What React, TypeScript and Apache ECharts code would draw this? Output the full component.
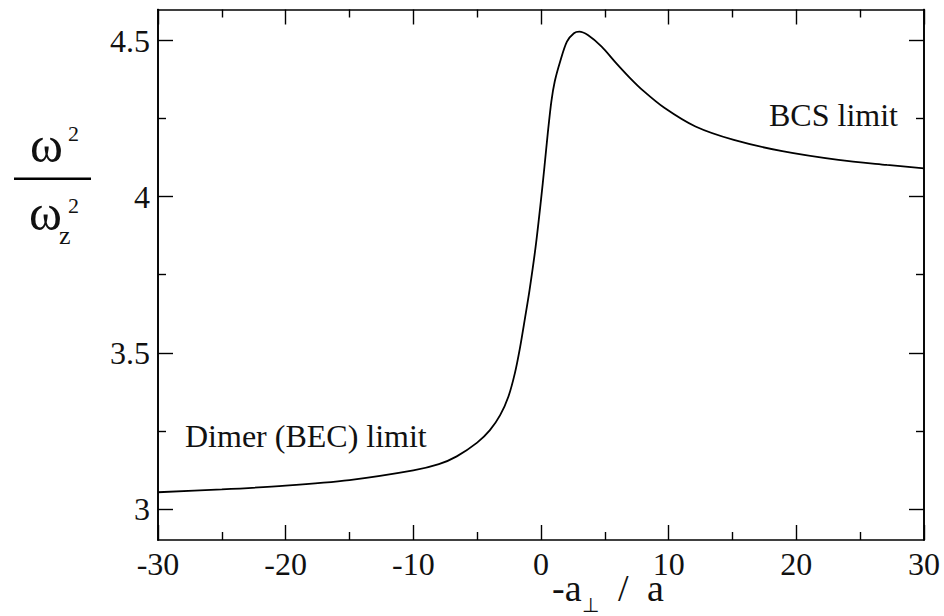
import React, { useEffect, useRef } from "react";
import * as echarts from "echarts";

const xValues = [-30, -25, -20, -15, -10, -8, -6.6, -5, -4, -3.2, -2.55, -2.05, -1.65, -1.25, -0.9, -0.42, 0, 0.27, 0.53, 0.81, 1.08, 1.49, 2.03, 2.58, 3.0, 3.67, 4.75, 5.85, 6.94, 8.0, 9.66, 12.1, 15.1, 18.9, 23.3, 27.1, 30];
const yValues = [3.053, 3.062, 3.074, 3.092, 3.123, 3.143, 3.168, 3.212, 3.252, 3.3, 3.36, 3.434, 3.515, 3.612, 3.7, 3.84, 3.99, 4.096, 4.203, 4.305, 4.37, 4.432, 4.497, 4.524, 4.529, 4.518, 4.481, 4.43, 4.382, 4.34, 4.285, 4.225, 4.182, 4.146, 4.118, 4.102, 4.091];
const yMajorTicks = [3, 3.5, 4, 4.5];
const yMinorTicks = [3.25, 3.75, 4.25];

const SERIF = "Liberation Serif";
const HIDDEN = "rgba(0,0,0,0)";

export default function App() {
  const ref = useRef<HTMLDivElement>(null);
  useEffect(() => {
    if (!ref.current) return;
    const chart = echarts.init(ref.current, null, { renderer: "svg" });
    const data = xValues.map((x, i) => [x, yValues[i]]);
    const axisLineStyle = { color: "#000", width: 1.6 };
    const tickStyle = { color: "#000", width: 1.4 };
    const yBase = (position: "left" | "right", show: boolean, ticks: number[], len: number) => ({
      type: "value",
      position,
      min: 2.9,
      max: 4.6,
      axisLine: { show: true, onZero: false, lineStyle: axisLineStyle },
      axisTick: { show: true, inside: true, length: len, customValues: ticks, lineStyle: tickStyle },
      axisLabel: show
        ? { show: true, customValues: ticks, color: "#111", fontFamily: SERIF, fontSize: 32, margin: 8 }
        : { show: true, inside: true, customValues: ticks, color: HIDDEN, fontFamily: SERIF, fontSize: 30, margin: 20 },
      splitLine: { show: false },
    });
    const xBase = (position: "top" | "bottom", show: boolean) => ({
      type: "value",
      position,
      min: -30,
      max: 30,
      interval: 10,
      axisLine: { show: true, onZero: false, lineStyle: axisLineStyle },
      axisTick: { show: true, inside: true, length: 15, lineStyle: tickStyle },
      minorTick: { show: true, splitNumber: 2, length: 8, lineStyle: tickStyle },
      axisLabel: show
        ? { show: true, color: "#111", fontFamily: SERIF, fontSize: 32, margin: 8 }
        : { show: true, inside: true, color: HIDDEN, fontFamily: SERIF, fontSize: 30, margin: 20 },
      splitLine: { show: false },
      minorSplitLine: { show: false },
    });
    const txt = (text: string, x: number, y: number, size: number) => ({
      type: "text",
      x,
      y,
      style: { text, fill: "#111", fontFamily: SERIF, fontSize: size, verticalAlign: "middle", align: "left" },
    });
    chart.setOption({
      animation: false,
      backgroundColor: "#fff",
      grid: { left: 158, right: 20, top: 9.5, bottom: 76 },
      xAxis: [xBase("bottom", true), xBase("top", false)],
      yAxis: [
        yBase("left", true, yMajorTicks, 15),
        yBase("right", false, yMajorTicks, 15),
        yBase("left", false, yMinorTicks, 8),
        yBase("right", false, yMinorTicks, 8),
      ],
      series: [
        {
          type: "line",
          data,
          xAxisIndex: 0,
          yAxisIndex: 0,
          showSymbol: false,
          smooth: 0.3,
          lineStyle: { color: "#000", width: 1.8 },
        },
      ],
      graphic: [
        txt("BCS limit", 769, 115, 32),
        txt("Dimer (BEC) limit", 185, 436, 32),
        txt("-a", 552, 588, 38),
        txt("⊥", 582, 605, 20),
        txt("/", 618, 588, 38),
        txt("a", 647, 588, 38),
        { type: "line", shape: { x1: 14, y1: 178.7, x2: 91, y2: 178.7 }, style: { stroke: "#000", lineWidth: 2.5 } },
        txt("ω", 30, 145, 50),
        txt("2", 68, 133, 22),
        txt("ω", 29, 213, 50),
        txt("2", 68, 205, 22),
        txt("z", 59, 235, 26),
      ],
    });
    return () => chart.dispose();
  }, []);
  return <div ref={ref} style={{ position: "fixed", left: 0, top: 0, width: 944, height: 616 }} />;
}
